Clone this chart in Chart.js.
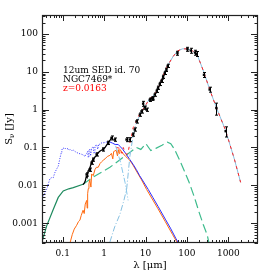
<!DOCTYPE html>
<html><head><meta charset="utf-8">
<script src="https://cdn.jsdelivr.net/npm/chart.js@4.4.1/dist/chart.umd.min.js"></script>
<style>html,body{margin:0;padding:0;background:#fff;}#c{display:block;}</style>
</head><body>
<canvas id="c" width="273" height="273"></canvas>
<script>
// ---- tick values / labels ----
const xTicks = [0.1, 1, 10, 100, 1000];
const xTickLabels = ['0.1', '1', '10', '100', '1000'];
const yTicks = [0.001, 0.01, 0.1, 1, 10, 100];
const yTickLabels = ['0.001', '0.01', '0.1', '1', '10', '100'];

// ---- observed photometry (um, Jy, fractional error) ----
const obsWave = [0.378,0.455,0.50,0.546,0.66,0.95,1.26,1.51,1.82,3.48,4.17,5.0,5.5,6.07,7.3,8.0,8.75,9.6,10.6,12.7,14.2,15.2,16.7,18.7,20.1,22.1,24.3,26.6,29.2,32,34.4,59,103,124,157,172,258,354,514,861];
const obsFlux = [0.0195,0.026,0.040,0.048,0.066,0.089,0.133,0.18,0.162,0.162,0.162,0.22,0.30,0.49,0.74,0.90,1.44,1.13,1.0,1.83,1.95,2.0,2.5,3.16,3.8,4.8,5.8,7.4,9.4,11.3,14.4,31,39.5,36.3,32.2,29.8,8.3,3.4,1.1,0.27];
const obsErr  = [0.1,0.1,0.1,0.1,0.1,0.1,0.1,0.12,0.1,0.12,0.12,0.1,0.1,0.1,0.1,0.1,0.15,0.1,0.1,0.1,0.1,0.1,0.1,0.1,0.1,0.1,0.1,0.1,0.1,0.1,0.1,0.12,0.12,0.15,0.15,0.15,0.15,0.15,0.35,0.3];

// ---- optical spectrum (black line) ----
const specWave = [0.31,0.33,0.35,0.37,0.39,0.41,0.43,0.45,0.48,0.5,0.53,0.56,0.6,0.64,0.68,0.72,0.77,0.82,0.88,0.95,1.05,1.2,1.35,1.51];
const specFlux = [0.0105,0.0115,0.013,0.017,0.016,0.024,0.027,0.028,0.036,0.04,0.046,0.05,0.056,0.06,0.066,0.072,0.078,0.082,0.086,0.09,0.1,0.125,0.15,0.175];

// ---- AGN accretion disk (blue) ----
const agnWave = [0.031,0.036,0.041,0.045,0.049,0.054,0.059,0.065,0.072,0.078,0.085,0.092,0.095,0.1,0.103,0.11,0.118,0.125,0.135,0.145,0.155,0.165,0.18,0.2,0.217,0.24,0.265,0.287,0.31,0.33,0.345,0.36,0.38,0.40,0.414,0.43,0.45,0.47,0.5,0.52,0.546,0.57,0.6,0.63,0.66,0.7,0.75,0.79,0.85,0.9,0.95,1.04,1.15,1.25,1.38,1.6,1.85,2.19,2.4,2.8,3.3,4.17,5.0,6.0,7.2,8.7,11.6,15,20,30,40,53.7,70];
const agnFlux = [0.0045,0.0058,0.0079,0.011,0.015,0.016,0.016,0.022,0.0275,0.032,0.05,0.072,0.085,0.097,0.095,0.1,0.091,0.09,0.095,0.085,0.088,0.082,0.085,0.078,0.074,0.07,0.068,0.066,0.064,0.06,0.059,0.065,0.07,0.079,0.055,0.085,0.09,0.06,0.097,0.1,0.105,0.07,0.11,0.115,0.12,0.09,0.125,0.12,0.13,0.135,0.133,0.135,0.14,0.14,0.14,0.13,0.12,0.12,0.108,0.09,0.07,0.048,0.036,0.026,0.018,0.013,0.0078,0.0048,0.0028,0.00128,0.00074,0.0004,0.00024];

// ---- host galaxy stars (orange) ----
const hostWave = [0.15,0.17,0.19,0.217,0.24,0.26,0.28,0.31,0.33,0.35,0.38,0.39,0.40,0.414,0.43,0.45,0.48,0.5,0.546,0.6,0.65,0.72,0.8,0.87,0.95,1.05,1.2,1.38,1.5,1.62,1.7,1.82,1.95,2.1,2.2,2.3,2.4,2.6,2.9,3.3,3.7,4.17,5,6,8,10.6,15,20,30,45,59,80];
const hostFlux = [0.0003,0.0005,0.0007,0.00088,0.0011,0.0012,0.0016,0.0022,0.0018,0.0032,0.004,0.0025,0.006,0.0082,0.011,0.014,0.009,0.02,0.018,0.026,0.03,0.03,0.038,0.042,0.046,0.05,0.058,0.062,0.07,0.05,0.078,0.081,0.085,0.06,0.088,0.07,0.089,0.08,0.068,0.058,0.052,0.046,0.034,0.024,0.014,0.0078,0.0041,0.0024,0.0011,0.0005,0.0003,0.00017];

// ---- AGN torus (green) ----
const torusWave = [0.031,0.041,0.059,0.078,0.103,0.14,0.18,0.31,0.55,1.38,2.9,6.0,7.7,10.2,13.4,17.7,25,33.8,40.7,50,64.6,85,112,150,195,250,310,340];
const torusFlux = [0.0003,0.00085,0.0023,0.0048,0.0071,0.0081,0.0087,0.0107,0.0166,0.030,0.055,0.10,0.089,0.126,0.083,0.095,0.115,0.138,0.126,0.09,0.05,0.025,0.0123,0.005,0.002,0.0009,0.00048,0.0003];

// ---- starburst (light blue) ----
const sbWave = [1.38,1.8,2.4,3.0,3.5,4.2,5.0,6.0,8,10,12.6,16.7,22,28,34.6,46,59,79,105,138,182,254,354,514,861,1400,1977];
const sbFlux = [0.00032,0.0008,0.0017,0.004,0.008,0.06,0.2,0.45,0.9,1.3,1.95,2.5,4.6,9,15,25,35.5,40.5,40,35.5,26,10,3.4,1.13,0.28,0.049,0.012];
const sb2Wave = [1.9,2.5,3.2,3.8];
const sb2Flux = [0.11,0.04,0.012,0.004];

// ---- total model (red) ----
const totWave = [2.0,2.4,2.7,2.9,3.2,3.5,3.8,4.17,4.6,5.0,5.5,6.0,7,8,10,12.6,16.7,22,28,34.6,46,59,79,105,138,182,254,354,514,861,1400,1977];
const totFlux = [0.1,0.095,0.07,0.1,0.075,0.065,0.075,0.13,0.2,0.33,0.4,0.5,0.72,0.9,1.3,1.95,2.5,4.6,9,15,25,35.5,40.5,40,35.5,26,10,3.4,1.13,0.28,0.049,0.012];

const pts = (w, f) => w.map((x, i) => ({x: x, y: f[i]}));
const line = (w, f, color, extra) => Object.assign({
  data: pts(w, f), showLine: true, borderColor: color, borderWidth: 1,
  pointRadius: 0, tension: 0, fill: false
}, extra || {});

const datasets = [
  Object.assign({data: pts(obsWave, obsFlux), showLine: false, pointStyle: 'rect',
    pointRadius: 1.7, backgroundColor: '#000', borderColor: '#000', borderWidth: 0, order: 0}),
  line(totWave, totFlux, '#ff2020', {borderDash: [3, 4], order: 1}),
  line(specWave, specFlux, '#000000', {order: 2, borderWidth: 1.3}),
  line(sbWave, sbFlux, '#86bfe0', {borderDash: [6, 2, 1, 2], order: 3,
    segment: {borderDash: c => c.p0.parsed.x >= 6 ? [] : undefined}}),
  line(sb2Wave, sb2Flux, '#86c6ea', {borderDash: [6, 2, 1, 2], order: 3}),
  line(agnWave, agnFlux, '#2a2aff', {order: 4, borderDash: [],
    segment: {borderDash: c => c.p0.parsed.x < 1.3 ? [1, 1.5] : undefined}}),
  line(hostWave, hostFlux, '#ff6a10', {order: 5}),
  line(torusWave, torusFlux, '#3dbb8c', {order: 6, borderDash: [9, 4], borderWidth: 1.2,
    segment: {borderDash: c => c.p0.parsed.x < 0.3 ? [] : undefined,
              borderColor: c => c.p0.parsed.x < 0.3 ? '#1e8a5e' : undefined}})
];

const serif = 'DejaVu Serif';

const framePlugin = {
  id: 'frame',
  afterDatasetsDraw(chart) {
    const {ctx, chartArea: a, scales: {x, y}} = chart;
    ctx.save();
    // error bars
    ctx.strokeStyle = '#000'; ctx.lineWidth = 1;
    obsWave.forEach((w, i) => {
      const px = Math.round(x.getPixelForValue(w)) + 0.5;
      const lo = y.getPixelForValue(obsFlux[i] * (1 - obsErr[i]));
      const hi = y.getPixelForValue(obsFlux[i] * (1 + obsErr[i]));
      ctx.beginPath();
      ctx.moveTo(px, lo); ctx.lineTo(px, hi);
      ctx.moveTo(px - 1.5, lo); ctx.lineTo(px + 1.5, lo);
      ctx.moveTo(px - 1.5, hi); ctx.lineTo(px + 1.5, hi);
      ctx.stroke();
    });
    // frame
    ctx.strokeStyle = '#222'; ctx.lineWidth = 1.2;
    ctx.strokeRect(a.left + 0.5, a.top + 0.5, a.right - a.left - 1, a.bottom - a.top - 1);
    ctx.lineWidth = 1;
    // x ticks (inward, bottom & top)
    for (let e = -2; e <= 4; e++) {
      for (let m = 1; m <= 9; m++) {
        const v = m * Math.pow(10, e);
        if (v < x.min || v > x.max) continue;
        const px = Math.round(x.getPixelForValue(v)) + 0.5;
        const len = m === 1 ? 6 : 3;
        ctx.beginPath();
        ctx.moveTo(px, a.bottom); ctx.lineTo(px, a.bottom - len);
        ctx.moveTo(px, a.top); ctx.lineTo(px, a.top + len);
        ctx.stroke();
      }
    }
    for (let e = -4; e <= 3; e++) {
      for (let m = 1; m <= 9; m++) {
        const v = m * Math.pow(10, e);
        if (v < y.min || v > y.max) continue;
        const py = Math.round(y.getPixelForValue(v)) + 0.5;
        const len = m === 1 ? 7 : 3.5;
        ctx.beginPath();
        ctx.moveTo(a.left, py); ctx.lineTo(a.left + len, py);
        ctx.moveTo(a.right, py); ctx.lineTo(a.right - len, py);
        ctx.stroke();
      }
    }
    // annotations
    ctx.font = '9px "' + serif + '"';
    ctx.textBaseline = 'middle'; ctx.textAlign = 'left';
    const tx = a.left + 21;
    ctx.fillStyle = '#000';
    ctx.fillText('12um SED id. 70', tx, 71);
    ctx.fillText('NGC7469*', tx, 80);
    ctx.fillStyle = '#ff0000';
    ctx.fillText('z=0.0163', tx, 89);
    // y axis title S_nu [Jy]
    ctx.fillStyle = '#000';
    ctx.translate(9, (a.top + a.bottom) / 2);
    ctx.rotate(-Math.PI / 2);
    ctx.textAlign = 'left'; ctx.textBaseline = 'middle';
    ctx.font = '10px "' + serif + '"';
    const wS = ctx.measureText('S').width;
    ctx.font = '7px "' + serif + '"';
    const wN = ctx.measureText('\u03bd').width;
    ctx.font = '10px "' + serif + '"';
    const wJ = ctx.measureText(' [Jy]').width;
    let sx = -(wS + wN + wJ) / 2;
    ctx.fillText('S', sx, 0);
    ctx.font = '7px "' + serif + '"';
    ctx.fillText('\u03bd', sx + wS, 3);
    ctx.font = '10px "' + serif + '"';
    ctx.fillText(' [Jy]', sx + wS + wN, 0);
    ctx.restore();
  }
};

new Chart(document.getElementById('c'), {
  type: 'scatter',
  data: {datasets: datasets},
  plugins: [framePlugin],
  options: {
    responsive: false, animation: false, devicePixelRatio: 1,
    layout: {padding: {top: 15, right: 15, left: 0, bottom: 0}},
    plugins: {legend: {display: false}, tooltip: {enabled: false}},
    scales: {
      x: {
        type: 'logarithmic', min: 0.0316, max: 5200,
        grid: {display: false, drawTicks: false},
        border: {display: false},
        afterBuildTicks: s => { s.ticks = xTicks.map(v => ({value: v})); },
        afterFit: s => { s.height = 30; },
        ticks: {autoSkip: false, maxRotation: 0, padding: 5, color: '#000',
          font: {family: serif, size: 9},
          callback: v => xTickLabels[xTicks.indexOf(v)]},
        title: {display: true, text: 'λ [μm]', color: '#000',
          font: {family: serif, size: 10}, padding: {top: 0, bottom: 2}}
      },
      y: {
        type: 'logarithmic', min: 0.00033, max: 316,
        grid: {display: false, drawTicks: false},
        border: {display: false},
        afterBuildTicks: s => { s.ticks = yTicks.map(v => ({value: v})); },
        afterFit: s => { s.width = 42; },
        ticks: {autoSkip: false, padding: 4, color: '#000',
          font: {family: serif, size: 9},
          callback: v => yTickLabels[yTicks.indexOf(v)]},
        title: {display: false}
      }
    }
  }
});
</script>
</body></html>
